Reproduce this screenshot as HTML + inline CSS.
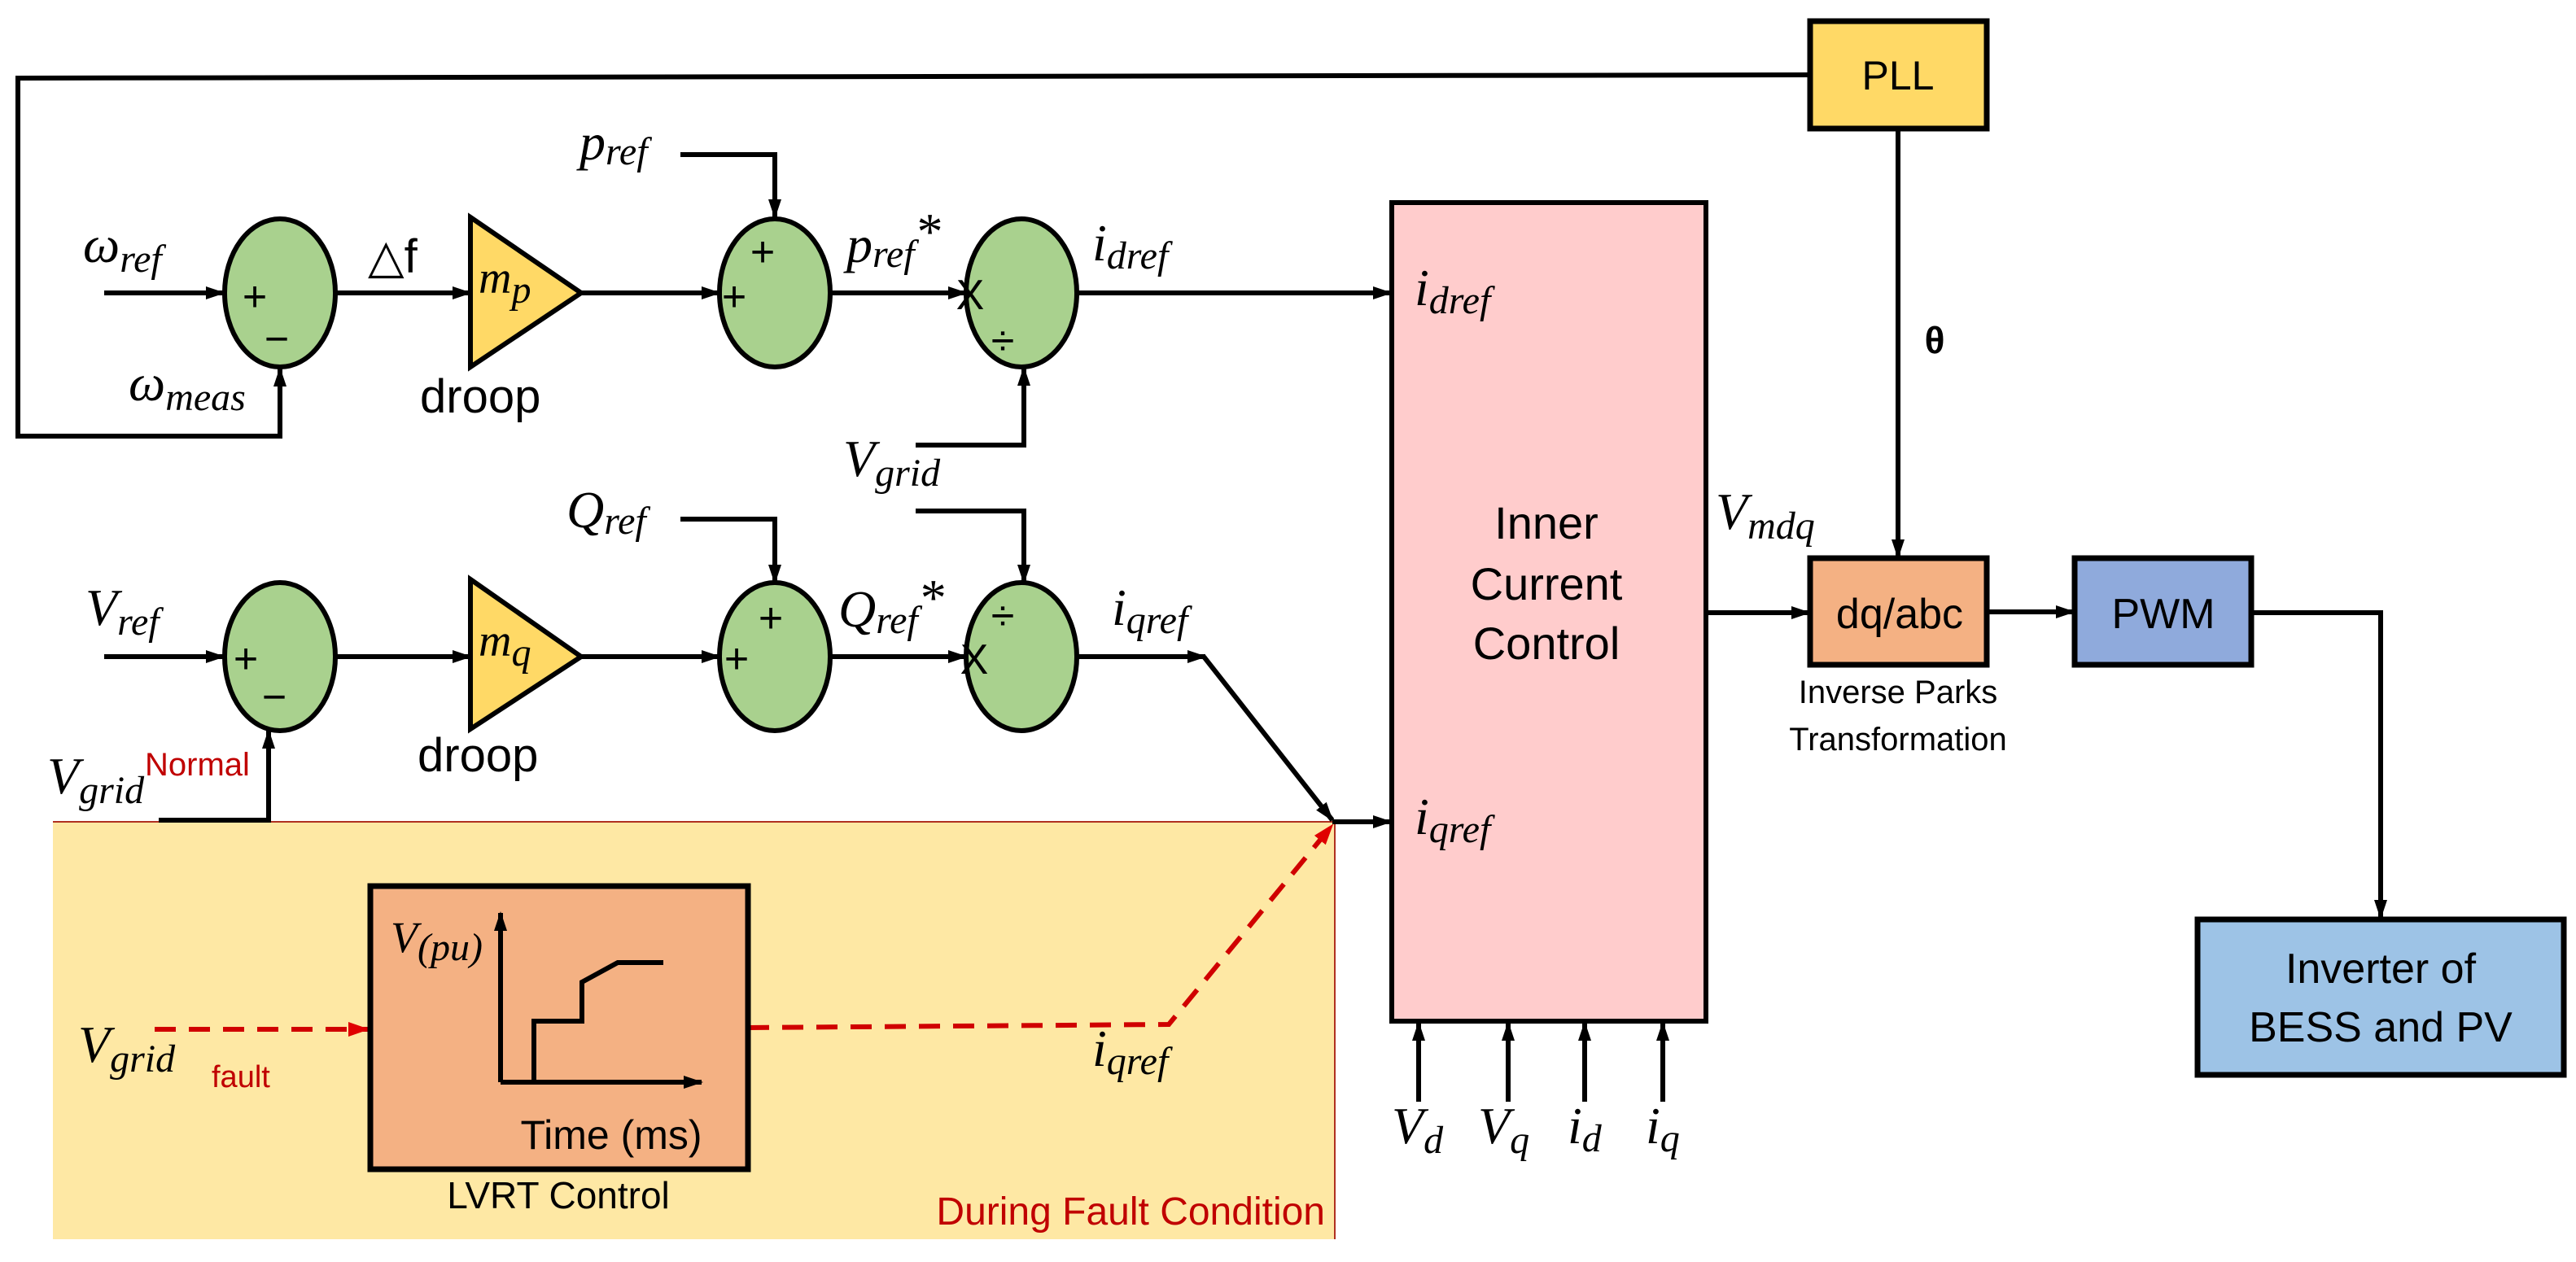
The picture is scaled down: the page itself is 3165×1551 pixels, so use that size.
<!DOCTYPE html>
<html><head><meta charset="utf-8"><style>
html,body{margin:0;padding:0;background:#fff;}
svg{display:block;}
.m{font-family:"Liberation Serif",serif;font-style:italic;font-size:64px;fill:#000;}
.s{font-size:48px;}
.t{font-family:"Liberation Sans",sans-serif;fill:#000;}
</style></head><body>
<svg width="3165" height="1551" viewBox="0 0 3165 1551" xmlns="http://www.w3.org/2000/svg">
<defs>
<marker id="a" markerWidth="24" markerHeight="20" refX="22" refY="10" orient="auto" markerUnits="userSpaceOnUse"><path d="M0,2 L24,10 L0,18 z" fill="#000"/></marker>
<marker id="r" markerWidth="26" markerHeight="22" refX="24" refY="11" orient="auto" markerUnits="userSpaceOnUse"><path d="M0,2 L26,11 L0,20 z" fill="#e00000"/></marker>
</defs>
<rect width="3165" height="1551" fill="#fff"/>
<rect x="65" y="1010" width="1575" height="513" fill="#fee8a4"/>
<line x1="65" y1="1010" x2="1640" y2="1010" stroke="#b03020" stroke-width="2"/>
<line x1="1640" y1="1010" x2="1640" y2="1523" stroke="#b03020" stroke-width="2"/>
<g stroke="#000" stroke-width="6" fill="none">
<polyline points="2224,92 22,96 22,536 344,536 344,453" marker-end="url(#a)"/>
<line x1="128" y1="360" x2="275" y2="360" marker-end="url(#a)"/>
<line x1="413" y1="360" x2="578" y2="360" marker-end="url(#a)"/>
<line x1="714" y1="360" x2="884" y2="360" marker-end="url(#a)"/>
<line x1="1020" y1="360" x2="1187" y2="360" marker-end="url(#a)"/>
<line x1="1324" y1="360" x2="1709" y2="360" marker-end="url(#a)"/>
<polyline points="836,190 952,190 952,267" marker-end="url(#a)"/>
<polyline points="1125,547 1258,547 1258,452" marker-end="url(#a)"/>
<line x1="128" y1="807" x2="275" y2="807" marker-end="url(#a)"/>
<line x1="413" y1="807" x2="578" y2="807" marker-end="url(#a)"/>
<line x1="714" y1="807" x2="884" y2="807" marker-end="url(#a)"/>
<line x1="1020" y1="807" x2="1187" y2="807" marker-end="url(#a)"/>
<line x1="1324" y1="807" x2="1481" y2="807" marker-end="url(#a)"/>
<line x1="1479" y1="807" x2="1637" y2="1008" marker-end="url(#a)"/>
<line x1="1637" y1="1010" x2="1709" y2="1010" marker-end="url(#a)"/>
<polyline points="836,638 952,638 952,716" marker-end="url(#a)"/>
<polyline points="1125,628 1258,628 1258,716" marker-end="url(#a)"/>
<polyline points="195,1008 330,1008 330,898" marker-end="url(#a)"/>
<line x1="2332" y1="158" x2="2332" y2="685" marker-end="url(#a)"/>
<line x1="2096" y1="753" x2="2223" y2="753" marker-end="url(#a)"/>
<line x1="2441" y1="752" x2="2548" y2="752" marker-end="url(#a)"/>
<polyline points="2766,753 2925,753 2925,1128" marker-end="url(#a)"/>
<line x1="1743" y1="1354" x2="1743" y2="1257" marker-end="url(#a)"/>
<line x1="1853" y1="1354" x2="1853" y2="1257" marker-end="url(#a)"/>
<line x1="1947" y1="1354" x2="1947" y2="1257" marker-end="url(#a)"/>
<line x1="2043" y1="1354" x2="2043" y2="1257" marker-end="url(#a)"/>
</g>
<g stroke="#d00000" stroke-width="6" fill="none" stroke-dasharray="26,16">
<line x1="190" y1="1265" x2="452" y2="1265" marker-end="url(#r)"/>
<polyline points="919,1263 1436,1259 1637,1014" marker-end="url(#r)"/>
</g>
<g fill="#a9d18e" stroke="#000" stroke-width="6">
<ellipse cx="344" cy="360" rx="68" ry="91"/>
<ellipse cx="952" cy="360" rx="68" ry="91"/>
<ellipse cx="1255" cy="360" rx="68" ry="91"/>
<ellipse cx="344" cy="807" rx="68" ry="91"/>
<ellipse cx="952" cy="807" rx="68" ry="91"/>
<ellipse cx="1255" cy="807" rx="68" ry="91"/>
</g>
<g fill="#ffd966" stroke="#000" stroke-width="6">
<polygon points="578,267 714,360 578,451"/>
<polygon points="578,712 714,807 578,896"/>
</g>
<rect x="1710" y="249" width="386" height="1006" fill="#ffcccc" stroke="#000" stroke-width="6"/>
<rect x="2224" y="26" width="217" height="132" fill="#ffd966" stroke="#000" stroke-width="7"/>
<rect x="2224" y="686" width="217" height="131" fill="#f4b183" stroke="#000" stroke-width="7"/>
<rect x="2549" y="686" width="217" height="131" fill="#8faadc" stroke="#000" stroke-width="7"/>
<rect x="2700" y="1130" width="450" height="191" fill="#9dc3e6" stroke="#000" stroke-width="7"/>
<rect x="455" y="1089" width="464" height="348" fill="#f4b183" stroke="#000" stroke-width="7"/>
<g stroke="#000" stroke-width="6" fill="none">
<line x1="615" y1="1330" x2="615" y2="1122" marker-end="url(#a)"/>
<line x1="615" y1="1330" x2="862" y2="1330" marker-end="url(#a)"/>
<polyline points="656,1330 656,1255 715,1255 715,1207 759,1183 815,1183"/>
</g>
<g class="t" font-size="52" text-anchor="middle">
<text x="313" y="382">+</text><text x="340" y="434">−</text>
<text x="937" y="327">+</text><text x="902" y="382">+</text>
<text x="1192" y="380">X</text><text x="1232" y="436">÷</text>
<text x="302" y="827">+</text><text x="337" y="874">−</text>
<text x="947" y="777">+</text><text x="905" y="827">+</text>
<text x="1232" y="774">÷</text><text x="1197" y="828">X</text>
</g>
<g class="m">
<text x="102" y="322">ω<tspan class="s" dy="12">ref</tspan></text>
<text x="158" y="492">ω<tspan class="s" dy="12">meas</tspan></text>
<text x="712" y="196">p<tspan class="s" dy="6">ref</tspan></text>
<text x="1040" y="322">p<tspan class="s" dy="6">ref</tspan><tspan dy="-22">*</tspan></text>
<text x="1342" y="320">i<tspan class="s" dy="10">dref</tspan></text>
<text x="588" y="360" font-size="56">m<tspan class="s" font-size="40" dy="12">p</tspan></text>
<text x="588" y="806" font-size="56">m<tspan class="s" font-size="40" dy="12">q</tspan></text>
<text x="1036" y="585">V<tspan class="s" dy="12">grid</tspan></text>
<text x="696" y="648">Q<tspan class="s" dy="8">ref</tspan></text>
<text x="105" y="768">V<tspan class="s" dy="12">ref</tspan></text>
<text x="1030" y="770">Q<tspan class="s" dy="8">ref</tspan><tspan dy="-22">*</tspan></text>
<text x="1366" y="768">i<tspan class="s" dy="10">qref</tspan></text>
<text x="58" y="975">V<tspan class="s" dy="12">grid</tspan></text>
<text x="96" y="1305">V<tspan class="s" dy="12">grid</tspan></text>
<text x="1342" y="1310">i<tspan class="s" dy="10">qref</tspan></text>
<text x="1738" y="375">i<tspan class="s" dy="10">dref</tspan></text>
<text x="1738" y="1025">i<tspan class="s" dy="10">qref</tspan></text>
<text x="2108" y="650">V<tspan class="s" dy="12">mdq</tspan></text>
<text x="480" y="1170" font-size="54">V<tspan class="s" font-size="42" dy="10">(pu)</tspan></text>
<text x="1710" y="1405">V<tspan class="s" dy="12">d</tspan></text>
<text x="1816" y="1405">V<tspan class="s" dy="12">q</tspan></text>
<text x="1926" y="1405">i<tspan class="s" dy="10">d</tspan></text>
<text x="2022" y="1405">i<tspan class="s" dy="10">q</tspan></text>
</g>
<g class="t">
<text x="452" y="335" font-size="58">△f</text>
<text x="516" y="507" font-size="58">droop</text>
<text x="513" y="948" font-size="58">droop</text>
<text x="178" y="953" font-size="40" fill="#c00000">Normal</text>
<text x="260" y="1336" font-size="38" fill="#c00000">fault</text>
<text x="2332" y="110" font-size="50" text-anchor="middle">PLL</text>
<text x="2377" y="434" font-size="46" font-weight="bold" text-anchor="middle">θ</text>
<text x="1900" y="662" font-size="56" text-anchor="middle">Inner</text>
<text x="1900" y="737" font-size="56" text-anchor="middle">Current</text>
<text x="1900" y="810" font-size="56" text-anchor="middle">Control</text>
<text x="2334" y="772" font-size="52" text-anchor="middle">dq/abc</text>
<text x="2658" y="772" font-size="52" text-anchor="middle">PWM</text>
<text x="2332" y="864" font-size="40" text-anchor="middle">Inverse Parks</text>
<text x="2332" y="922" font-size="40" text-anchor="middle">Transformation</text>
<text x="2925" y="1208" font-size="52" text-anchor="middle">Inverter of</text>
<text x="2925" y="1280" font-size="52" text-anchor="middle">BESS and PV</text>
<text x="751" y="1412" font-size="50" text-anchor="middle">Time (ms)</text>
<text x="686" y="1485" font-size="46" text-anchor="middle">LVRT Control</text>
<text x="1628" y="1505" font-size="48" fill="#c00000" text-anchor="end">During Fault Condition</text>
</g>
</svg>
</body></html>
